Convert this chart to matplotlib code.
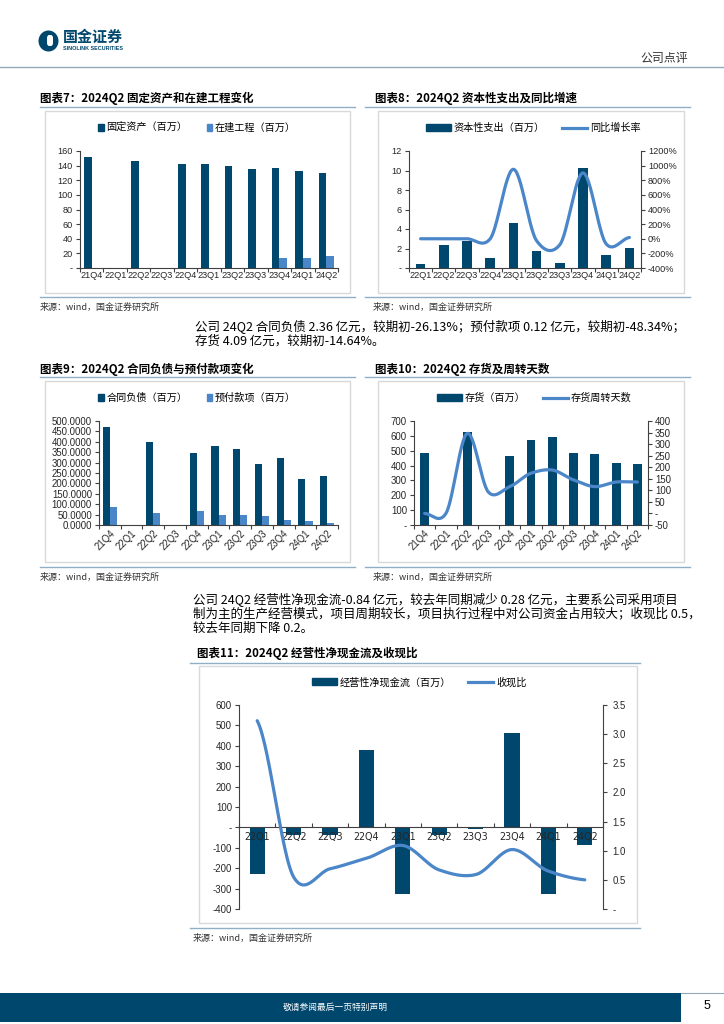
import numpy as np
import matplotlib
matplotlib.use('Agg')
import matplotlib.pyplot as plt
from matplotlib.lines import Line2D
from matplotlib.patches import Rectangle, Patch, Ellipse, FancyBboxPatch
from matplotlib.ticker import FuncFormatter

W, H = 724, 1024
NAVY = '#00476E'
LBLUE = '#4A86C8'
RULE = '#8FAFC6'
CJK = ['Noto Sans CJK SC', 'DejaVu Sans']
LAT = ['Liberation Sans', 'DejaVu Sans']
TICKC = '#262626'

# ---------------- data ----------------
q_7 = ['21Q4', '22Q1', '22Q2', '22Q3', '22Q4', '23Q1', '23Q2', '23Q3', '23Q4', '24Q1', '24Q2']
fixed_assets = [152, 0, 147, 0, 142, 142, 139, 136, 137, 133, 130]
construction = [0, 0, 0, 0, 0.5, 0.5, 0, 0, 13, 13, 16]

q_8 = ['22Q1', '22Q2', '22Q3', '22Q4', '23Q1', '23Q2', '23Q3', '23Q4', '24Q1', '24Q2']
capex = [0.45, 2.4, 2.75, 1.05, 4.6, 1.75, 0.5, 10.3, 1.35, 2.05]
capex_yoy = [0, 0, 0, 0, 950, -27, -82, 900, -71, 17]

q_9 = ['21Q4', '22Q1', '22Q2', '22Q3', '22Q4', '23Q1', '23Q2', '23Q3', '23Q4', '24Q1', '24Q2']
contract_liab = [470, 0, 400, 0, 345, 378, 363, 291, 321, 222, 236]
prepayments = [88, 0, 60, 0, 68, 50, 46, 45, 24, 21, 12]

q_10 = ['21Q4', '22Q1', '22Q2', '22Q3', '22Q4', '23Q1', '23Q2', '23Q3', '23Q4', '24Q1', '24Q2']
inventory = [485, 0, 625, 0, 465, 572, 592, 482, 480, 420, 408]
inv_days = [0, 0, 346, 92, 116, 174, 188, 145, 116, 136, 136]

q_11 = ['22Q1', '22Q2', '22Q3', '22Q4', '23Q1', '23Q2', '23Q3', '23Q4', '24Q1', '24Q2']
op_cashflow = [-227, -36, -36, 377, -325, -36, -8, 465, -325, -84]
cash_ratio = [3.23, 0.55, 0.69, 0.87, 1.09, 0.67, 0.59, 1.02, 0.65, 0.50]

fig = plt.figure(figsize=(W / 100, H / 100), dpi=100)


def fx(x):
    return x / W


def fy(y):
    return 1 - y / H


def add_ax(l, t, r, b):
    return fig.add_axes([fx(l), fy(b), (r - l) / W, (b - t) / H])


def hline(x0, x1, y, color=RULE, lw=1.0):
    fig.add_artist(Line2D([fx(x0), fx(x1)], [fy(y), fy(y)], transform=fig.transFigure,
                          color=color, lw=lw))


def box(l, t, r, b):
    fig.add_artist(Rectangle((fx(l), fy(b)), (r - l) / W, (b - t) / H, transform=fig.transFigure,
                             fill=False, edgecolor='#D9D9D9', lw=1.0))


def ftext(x, y, s, size=7, **kw):
    kw.setdefault('family', CJK)
    kw.setdefault('va', 'center')
    fig.text(fx(x), fy(y), s, fontsize=size, **kw)


def smooth(vals, k=0.85, n=30):
    y = np.asarray(vals, float)
    m = np.zeros_like(y)
    m[1:-1] = (y[2:] - y[:-2]) / 2 * k
    m[0] = (y[1] - y[0]) / 2 * k
    m[-1] = (y[-1] - y[-2]) / 2 * k
    xs, ys = [], []
    for i in range(len(y) - 1):
        t = np.linspace(0, 1, n)
        h00 = 2 * t**3 - 3 * t**2 + 1
        h10 = t**3 - 2 * t**2 + t
        h01 = -2 * t**3 + 3 * t**2
        h11 = t**3 - t**2
        ys.append(h00 * y[i] + h10 * m[i] + h01 * y[i + 1] + h11 * m[i + 1])
        xs.append(i + t)
    return np.concatenate(xs), np.concatenate(ys)


def dash0(fmt):
    def f(v, pos):
        if abs(v) < 1e-9:
            return '-'
        return fmt.format(v)
    return FuncFormatter(f)


def style(ax, left=True, fs=6.6):
    for s in ['top', 'right', 'left', 'bottom']:
        ax.spines[s].set_visible(False)
    ax.spines['bottom'].set_visible(True)
    ax.spines['bottom'].set_color('#404040')
    ax.spines['bottom'].set_linewidth(0.8)
    if left:
        ax.spines['left'].set_visible(True)
        ax.spines['left'].set_color('#404040')
        ax.spines['left'].set_linewidth(0.8)
    ax.set_facecolor('none')
    ax.tick_params(axis='y', length=3, width=0.8, color='#404040', labelsize=fs,
                   labelcolor=TICKC, pad=2)
    ax.tick_params(axis='x', which='major', length=0, labelsize=fs, labelcolor=TICKC, pad=2)
    for lab in ax.get_xticklabels() + ax.get_yticklabels():
        lab.set_family(LAT)


def style_right(ax, fs=6.6, pad=2):
    for s in ['top', 'left', 'bottom']:
        ax.spines[s].set_visible(False)
    ax.spines['right'].set_color('#404040')
    ax.spines['right'].set_linewidth(0.8)
    ax.tick_params(axis='y', length=3, width=0.8, color='#404040', labelsize=fs,
                   labelcolor=TICKC, pad=pad)
    for lab in ax.get_yticklabels():
        lab.set_family(LAT)


def cat_axis(ax, cats, rot=0, direction='out'):
    x = np.arange(len(cats))
    ax.set_xlim(-0.5, len(cats) - 0.5)
    ax.set_xticks(x)
    if rot:
        ax.set_xticklabels(cats, rotation=rot, ha='right', va='top', rotation_mode='anchor',
                           family=LAT)
    else:
        ax.set_xticklabels(cats, family=LAT)
    ax.set_xticks(np.arange(-0.5, len(cats)), minor=True)
    ax.tick_params(axis='x', which='minor', length=3, width=0.8, color='#404040',
                   direction=direction)
    return x


def legend(cx, cy, handles, labels, hl=0.8, hh=0.8, cs=2.0):
    fig.legend(handles, labels, loc='center', bbox_to_anchor=(fx(cx), fy(cy)), ncol=len(handles),
               frameon=False, prop={'family': CJK, 'size': 7.3}, handlelength=hl,
               handleheight=hh, handletextpad=0.25, columnspacing=cs, borderpad=0)


# ---------------- page header ----------------
fig.add_artist(Ellipse((fx(48.5), fy(41)), 20 / W, 21 / H, transform=fig.transFigure,
                       facecolor=NAVY, edgecolor='none'))
fig.add_artist(FancyBboxPatch((fx(47), fy(46)), 6 / W, 11 / H, transform=fig.transFigure,
                              boxstyle='round,pad=0,rounding_size=0.003', facecolor='white',
                              edgecolor='none'))
ftext(63, 36.5, '国金证券', size=10.8, weight='bold', color=NAVY)
ftext(63, 48, 'SINOLINK SECURITIES', size=3.9, weight='bold', color=NAVY, family=LAT)
ftext(688, 58, '公司点评', size=8.6, ha='right', color='#333333')
hline(0, 724, 67, color='#93A9BA', lw=1.0)

# ---------------- chart frames ----------------
panels = [
    (40, 355, 45, 350, 98, 107, 111, 293, 297, 307, '图表7：2024Q2 固定资产和在建工程变化'),
    (365, 690, 378, 684, 98, 107, 111, 293, 297, 307, '图表8：2024Q2 资本性支出及同比增速'),
    (40, 355, 45, 350, 369, 377, 381, 562, 567, 577, '图表9：2024Q2 合同负债与预付款项变化'),
    (365, 690, 378, 684, 369, 377, 381, 562, 567, 577, '图表10：2024Q2 存货及周转天数'),
    (190, 640, 199, 637, 653, 663, 666, 923, 928, 938, '图表11：2024Q2 经营性净现金流及收现比'),
]
for (l0, l1, b0, b1, ty, ly, bt, bb, by, sy, title) in panels:
    tx = l0 if l0 == 40 else l0 + (10 if l0 == 365 else 7)
    ftext(tx, ty, title, size=8.3, weight='bold', color='black')
    hline(l0, l1, ly)
    box(b0, bt, b1, bb)
    hline(l0, l1, by)
    ftext(l0 + (0 if l0 == 40 else 8 if l0 == 365 else 3), sy, '来源：wind，国金证券研究所',
          size=6.5, color='#333333')

# ---------------- paragraphs ----------------
para1 = ['公司 24Q2 合同负债 2.36 亿元，较期初-26.13%；预付款项 0.12 亿元，较期初-48.34%；',
         '存货 4.09 亿元，较期初-14.64%。']
for i, s in enumerate(para1):
    ftext(195, 327 + i * 14, s, size=9.0, color='black')
para2 = ['公司 24Q2 经营性净现金流-0.84 亿元，较去年同期减少 0.28 亿元，主要系公司采用项目',
         '制为主的生产经营模式，项目周期较长，项目执行过程中对公司资金占用较大；收现比 0.5，',
         '较去年同期下降 0.2。']
for i, s in enumerate(para2):
    ftext(193, 600 + i * 14, s, size=9.0, color='black')

# ---------------- chart 7 ----------------
ax7 = add_ax(80, 151, 338, 268)
x7 = np.arange(len(q_7))
w = 0.33
ax7.bar(x7 - w / 2, fixed_assets, w, color=NAVY)
ax7.bar(x7 + w / 2, construction, w, color=LBLUE)
ax7.set_ylim(0, 160)
ax7.set_yticks(range(0, 161, 20))
ax7.yaxis.set_major_formatter(dash0('{:.0f}'))
cat_axis(ax7, q_7)
style(ax7)
legend(197, 128, [Patch(color=NAVY), Patch(color=LBLUE)], ['固定资产（百万）', '在建工程（百万）'],
       hl=0.55, hh=0.55, cs=1.9)

# ---------------- chart 8 ----------------
ax8 = add_ax(409, 151, 641, 268)
x8 = np.arange(len(q_8))
ax8.bar(x8, capex, 0.42, color=NAVY)
ax8.set_ylim(0, 12)
ax8.set_yticks(range(0, 13, 2))
ax8.yaxis.set_major_formatter(dash0('{:.0f}'))
cat_axis(ax8, q_8)
style(ax8)
ax8r = ax8.twinx()
sx, sy_ = smooth(capex_yoy)
ax8r.plot(sx, sy_, color=LBLUE, lw=2.3, solid_capstyle='round')
ax8r.set_ylim(-400, 1200)
ax8r.set_yticks(range(-400, 1201, 200))
ax8r.yaxis.set_major_formatter(FuncFormatter(lambda v, p: f'{v:.0f}%'))
style_right(ax8r)
legend(533, 128, [Patch(color=NAVY), Line2D([], [], color=LBLUE, lw=2.3)],
       ['资本性支出（百万）', '同比增长率'], hl=2.5, hh=0.7, cs=1.7)

# ---------------- chart 9 ----------------
ax9 = add_ax(99, 421, 338, 525)
x9 = np.arange(len(q_9))
ax9.bar(x9 - w / 2, contract_liab, w, color=NAVY)
ax9.bar(x9 + w / 2, prepayments, w, color=LBLUE)
ax9.set_ylim(0, 500)
ax9.set_yticks(range(0, 501, 50))
ax9.yaxis.set_major_formatter(FuncFormatter(lambda v, p: f'{v:.4f}'))
cat_axis(ax9, q_9, rot=45)
style(ax9, fs=6.9)
legend(197, 398, [Patch(color=NAVY), Patch(color=LBLUE)], ['合同负债（百万）', '预付款项（百万）'],
       hl=0.55, hh=0.55, cs=1.9)

# ---------------- chart 10 ----------------
ax10 = add_ax(414, 421, 648, 525)
x10 = np.arange(len(q_10))
ax10.bar(x10, inventory, 0.42, color=NAVY)
ax10.set_ylim(0, 700)
ax10.set_yticks(range(0, 701, 100))
ax10.yaxis.set_major_formatter(dash0('{:.0f}'))
cat_axis(ax10, q_10, rot=45)
style(ax10, fs=6.9)
ax10r = ax10.twinx()
sx, sy_ = smooth(inv_days)
ax10r.plot(sx, sy_, color=LBLUE, lw=2.3, solid_capstyle='round')
ax10r.set_ylim(-50, 400)
ax10r.set_yticks(range(-50, 401, 50))
ax10r.yaxis.set_major_formatter(dash0('{:.0f}'))
style_right(ax10r, fs=6.9)
legend(534, 398, [Patch(color=NAVY), Line2D([], [], color=LBLUE, lw=2.3)],
       ['存货（百万）', '存货周转天数'], hl=2.5, hh=0.7, cs=1.7)

# ---------------- chart 11 ----------------
ax11 = add_ax(239, 705, 603, 909)
x11 = np.arange(len(q_11))
ax11.bar(x11, op_cashflow, 0.42, color=NAVY)
ax11.set_ylim(-400, 600)
ax11.set_yticks(range(-400, 601, 100))
ax11.yaxis.set_major_formatter(dash0('{:.0f}'))
cat_axis(ax11, q_11, direction='in')
style(ax11, fs=6.9)
ax11.spines['bottom'].set_position(('data', 0))
ax11.tick_params(axis='x', which='major', pad=3)
ax11r = ax11.twinx()
sx, sy_ = smooth(cash_ratio)
ax11r.plot(sx, sy_, color=LBLUE, lw=2.3, solid_capstyle='round')
ax11r.set_ylim(0, 3.5)
ax11r.set_yticks(np.arange(0, 3.51, 0.5))
ax11r.yaxis.set_major_formatter(dash0('{:.1f}'))
style_right(ax11r, fs=6.9, pad=4)
legend(419, 682, [Patch(color=NAVY), Line2D([], [], color=LBLUE, lw=2.3)],
       ['经营性净现金流（百万）', '收现比'], hl=2.5, hh=0.7, cs=1.7)

# ---------------- footer ----------------
fig.add_artist(Rectangle((0, fy(1022)), fx(681), 29 / H, transform=fig.transFigure,
                         facecolor=NAVY, edgecolor='none'))
hline(681, 724, 993, color='#93A9BA', lw=0.8)
ftext(335, 1007, '敬请参阅最后一页特别声明', size=6.3, ha='center', color='white')
ftext(707, 1006, '5', size=9, ha='center', color='black', family=LAT)

fig.savefig('out.png', dpi=100)
